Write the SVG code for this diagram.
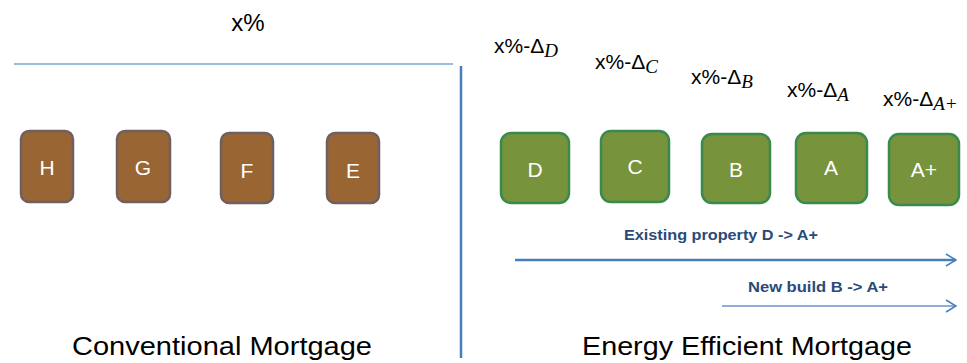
<svg xmlns="http://www.w3.org/2000/svg" width="967" height="363" viewBox="0 0 967 363">
<style>
text{font-family:"Liberation Sans",Arial,sans-serif}
.brown{fill:#996633;stroke:#6e6060;stroke-width:2.5}
.green{fill:#77933c;stroke:#3a8a50;stroke-width:2.5}
.lbl{fill:#fff;font-size:21px;text-anchor:middle}
.rate{fill:#000;font-size:21px}
.sub{font-family:"Liberation Serif","DejaVu Serif",serif;font-style:italic;font-size:19px}
.arrlbl{fill:#2a4a7a;font-size:14px;font-weight:bold}
.title{fill:#000;font-size:26px}
</style>
<defs>
<marker id="chev" markerWidth="12" markerHeight="14" refX="11" refY="7" orient="auto" markerUnits="userSpaceOnUse">
<path d="M1,1 L11,7 L1,13" fill="none" stroke="#4a7ebb" stroke-width="1.5"/>
</marker>
</defs>
<text x="248" y="31" text-anchor="middle" style="font-size:24px">x%</text>
<g id="connectors">
<line x1="14" y1="64" x2="453" y2="64" stroke="#7ea6d8" stroke-width="1.5"/>
<line x1="461" y1="66" x2="461" y2="358" stroke="#4a7ebb" stroke-width="2.5"/>
<line x1="515" y1="260" x2="956" y2="260" stroke="#4a7ebb" stroke-width="2.5" marker-end="url(#chev)"/>
<line x1="722" y1="306" x2="956" y2="306" stroke="#6a94c8" stroke-width="1.3" marker-end="url(#chev)"/>
</g>
<g id="H"><rect x="21" y="131" width="52" height="71" rx="8" class="brown"/><text x="47" y="175" class="lbl">H</text></g>
<g id="G"><rect x="117" y="131" width="53" height="71" rx="8" class="brown"/><text x="143" y="175" class="lbl">G</text></g>
<g id="F"><rect x="221" y="133" width="52" height="70" rx="8" class="brown"/><text x="247" y="178" class="lbl">F</text></g>
<g id="E"><rect x="327" y="133" width="52" height="70" rx="8" class="brown"/><text x="353" y="178" class="lbl">E</text></g>
<g id="D"><rect x="501" y="133" width="68" height="70" rx="10" class="green"/><text x="535" y="177" class="lbl">D</text></g>
<g id="C"><rect x="601" y="131" width="68" height="71" rx="10" class="green"/><text x="635" y="174" class="lbl">C</text></g>
<g id="B"><rect x="702" y="134" width="68" height="69" rx="10" class="green"/><text x="736" y="177" class="lbl">B</text></g>
<g id="A"><rect x="796" y="133" width="71" height="70" rx="10" class="green"/><text x="831" y="175" class="lbl">A</text></g>
<g id="Aplus"><rect x="889" y="134" width="70" height="71" rx="10" class="green"/><text x="924" y="177" class="lbl">A+</text></g>
<text x="494" y="53" class="rate">x%-Δ<tspan class="sub" dy="4">D</tspan></text>
<text x="595" y="69" class="rate">x%-Δ<tspan class="sub" dy="4">C</tspan></text>
<text x="691" y="84" class="rate">x%-Δ<tspan class="sub" dy="4">B</tspan></text>
<text x="787" y="97" class="rate">x%-Δ<tspan class="sub" dy="4">A</tspan></text>
<text x="883" y="106" class="rate">x%-Δ<tspan class="sub" dy="4">A+</tspan></text>
<text x="624" y="240" class="arrlbl" textLength="194" lengthAdjust="spacingAndGlyphs">Existing property D -&gt; A+</text>
<text x="748" y="292" class="arrlbl" textLength="140" lengthAdjust="spacingAndGlyphs">New build B -&gt; A+</text>
<text x="72" y="355" class="title" textLength="300" lengthAdjust="spacingAndGlyphs">Conventional Mortgage</text>
<text x="582" y="355" class="title" textLength="330" lengthAdjust="spacingAndGlyphs">Energy Efficient Mortgage</text>
</svg>
